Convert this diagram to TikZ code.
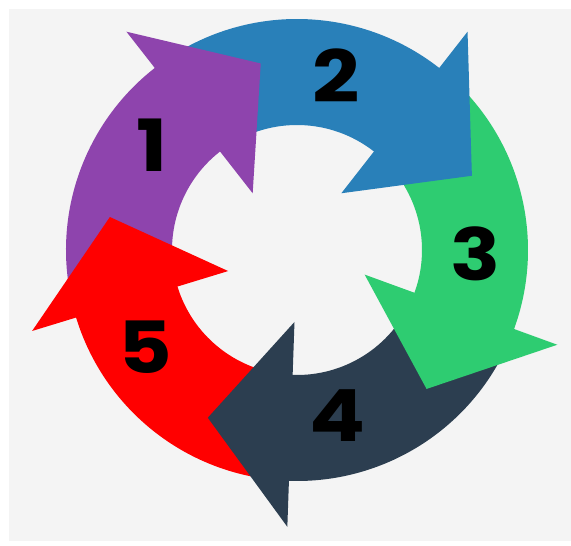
\documentclass[tikz,border=0pt]{standalone}
\usepackage{fontspec}
\usepackage{tikz}
\usepackage{xcolor}

\newfontfamily\numfont{Poppins}
\definecolor{wisteria}{HTML}{8E44AD}
\definecolor{belize}{HTML}{2980B9}
\definecolor{emerald}{HTML}{2ECC71}
\definecolor{midnight}{HTML}{2C3E50}
\definecolor{bggray}{HTML}{F4F4F4}

\begin{document}
\begin{tikzpicture}[x=1pt, y=1pt, every node/.style={font=\numfont\bfseries\fontsize{72}{72}\selectfont, inner sep=0pt, xscale=1.15}]
    \useasboundingbox (0,0) rectangle (571,546);
    \fill[white] (0,0) rectangle (571,546);
    \fill[bggray] (9,5) rectangle (571,537);

    \begin{scope}[shift={(297,296)}]
    \fill[wisteria] (191:231) arc[start angle=191, end angle=126, radius=231] -- (126:125) arc[start angle=126, end angle=191, radius=125] -- cycle;
    \fill[belize] (122:231) arc[start angle=122, end angle=50, radius=231] -- (50:125) arc[start angle=50, end angle=122, radius=125] -- cycle;
    \fill[emerald] (46:231) arc[start angle=46, end angle=-22, radius=231] -- (-22:125) arc[start angle=-22, end angle=46, radius=125] -- cycle;
    \fill[midnight] (-26:231) arc[start angle=-26, end angle=-94, radius=231] -- (-94:125) arc[start angle=-94, end angle=-26, radius=125] -- cycle;
    \fill[red] (262:231) arc[start angle=262, end angle=195, radius=231] -- (195:125) arc[start angle=195, end angle=262, radius=125] -- cycle;

    \fill[wisteria] (128:277) -- (101:190) -- (128:72) -- cycle;
    \fill[belize] (52:277) -- (23:190) -- (52:72) -- cycle;
    \fill[emerald] (-20:277) -- (-47:190) -- (-20:72) -- cycle;
    \fill[midnight] (-92:277) -- (-118:190) -- (-92:72) -- cycle;
    \fill[red] (197:277) -- (170:190) -- (197:72) -- cycle;
    \end{scope}

    \node (n1) at (152,401) {1};
    \node (n2) at (336,470) {2};
    \node (n3) at (476,292) {3};
    \node (n4) at (338,130) {4};
    \node (n5) at (145,199) {5};
\end{tikzpicture}
\end{document}
